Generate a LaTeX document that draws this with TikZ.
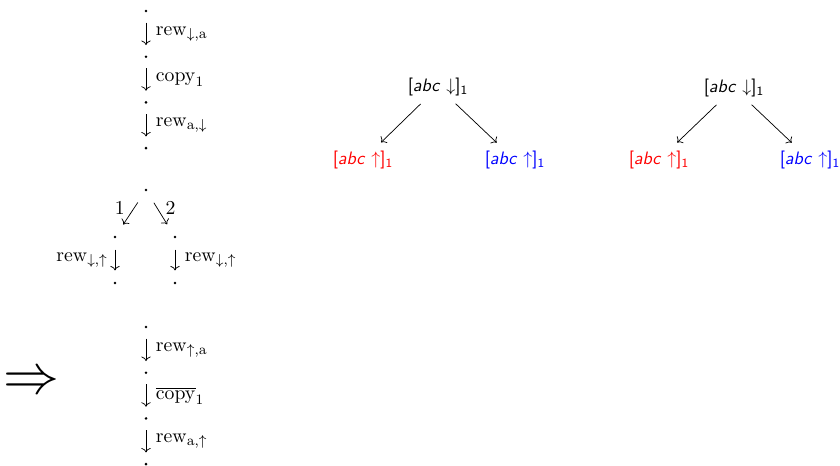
\documentclass[tikz,border=0pt]{standalone}
\usepackage{amsmath, amssymb}
\usepackage{xcolor}
\usetikzlibrary{arrows.meta, positioning}
\begin{document}
\begin{tikzpicture}[
  x=0.5556pt, y=-0.5556pt,
  node distance=23.4pt,
  font=\fontsize{11}{13}\selectfont,
  dotnode/.style={circle, fill, inner sep=0pt, minimum size=1.6pt},
  down/.style={-{Computer Modern Rightarrow}, shorten <=5.5pt, shorten >=5.5pt},
  diag/.style={-{Computer Modern Rightarrow}, shorten <=7.3pt, shorten >=7.3pt},
  tarr/.style={-{Computer Modern Rightarrow}, shorten <=13.5pt, shorten >=14pt},
  term/.style={font=\sffamily\fontsize{10}{12}\selectfont, inner sep=0pt},
]
  \useasboundingbox (0,0) rectangle (840,465);

  % first chain
  \node[dotnode] (a0) at (146,11) {};
  \node[dotnode, below=of a0] (a1) {};
  \node[dotnode, below=of a1] (a2) {};
  \node[dotnode, below=of a2] (a3) {};
  \draw[down] (a0) -- node[right, xshift=2pt] {$\mathrm{rew}_{\downarrow,\mathrm{a}}$} (a1);
  \draw[down] (a1) -- node[right, xshift=2pt] {$\mathrm{copy}_1$} (a2);
  \draw[down] (a2) -- node[right, xshift=2pt] {$\mathrm{rew}_{\mathrm{a},\downarrow}$} (a3);

  % branching
  \node[dotnode] (b0) at (146,190) {};
  \node[dotnode] (b1) at (115,237) {};
  \node[dotnode] (b2) at (175,237) {};
  \node[dotnode] (b3) at (115,283) {};
  \node[dotnode] (b4) at (175,283) {};
  \draw[diag] (b0) -- node[pos=0.38, left, inner sep=5pt] {$1$} (b1);
  \draw[diag] (b0) -- node[pos=0.38, right, inner sep=4.5pt] {$2$} (b2);
  \draw[down, shorten <=6pt, shorten >=6pt] (b1) -- node[left, xshift=-0.5pt] {$\mathrm{rew}_{\downarrow,\uparrow}$} (b3);
  \draw[down, shorten <=6pt, shorten >=6pt] (b2) -- node[right, xshift=2pt] {$\mathrm{rew}_{\downarrow,\uparrow}$} (b4);

  % second chain
  \node[scale=1.25] (impl) at (31,383) {\Huge$\Rightarrow$};
  \node[dotnode] (c0) at (146,327) {};
  \node[dotnode, below=of c0] (c1) {};
  \node[dotnode, below=of c1] (c2) {};
  \node[dotnode, below=of c2] (c3) {};
  \draw[down] (c0) -- node[right, xshift=2pt] {$\mathrm{rew}_{\uparrow,\mathrm{a}}$} (c1);
  \draw[down] (c1) -- node[right, xshift=2pt] {$\overline{\mathrm{copy}}_1$} (c2);
  \draw[down] (c2) -- node[right, xshift=2pt] {$\mathrm{rew}_{\mathrm{a},\uparrow}$} (c3);

  % trees
  \node[term] (r1) at (438,87) {[\textit{abc} $\downarrow$]\textsubscript{1}};
  \node[term, red] (r1l) at (363,160) {[\textit{abc} $\uparrow$]\textsubscript{1}};
  \node[term, blue] (r1r) at (515,160) {[\textit{abc} $\uparrow$]\textsubscript{1}};
  \draw[tarr] (r1.center) -- (r1l.center);
  \draw[tarr] (r1.center) -- (r1r.center);

  \node[term] (r2) at (734,88) {[\textit{abc} $\downarrow$]\textsubscript{1}};
  \node[term, red] (r2l) at (659,160) {[\textit{abc} $\uparrow$]\textsubscript{1}};
  \node[term, blue] (r2r) at (810,160) {[\textit{abc} $\uparrow$]\textsubscript{1}};
  \draw[tarr] (r2.center) -- (r2l.center);
  \draw[tarr] (r2.center) -- (r2r.center);
\end{tikzpicture}
\end{document}
